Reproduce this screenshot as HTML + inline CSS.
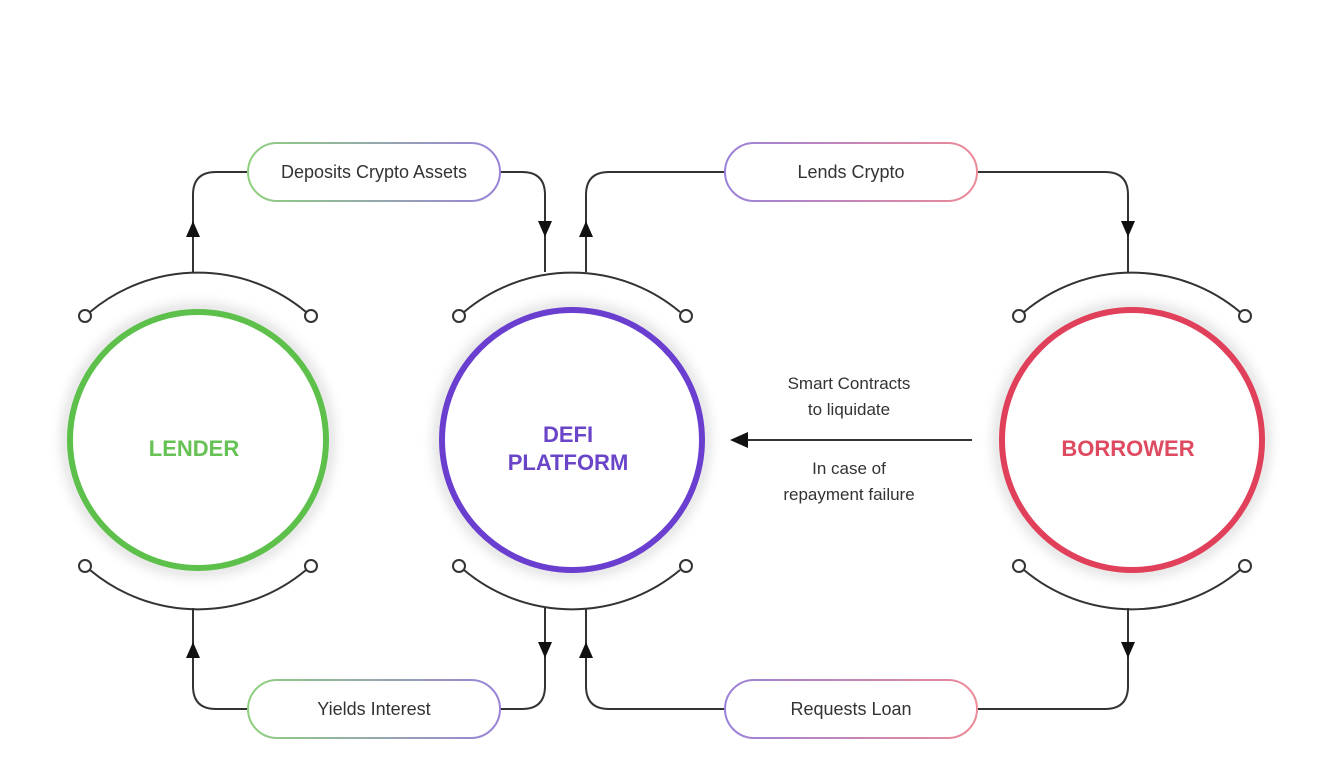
<!DOCTYPE html>
<html><head><meta charset="utf-8"><style>
html,body{margin:0;padding:0;background:#fff;}
svg{display:block;font-family:"Liberation Sans",sans-serif;}
</style></head><body>
<svg width="1320" height="772" viewBox="0 0 1320 772">
<defs>
<linearGradient id="gp" x1="0" x2="1" y1="0" y2="0"><stop offset="0" stop-color="#8fd07f"/><stop offset="1" stop-color="#9a82d8"/></linearGradient>
<linearGradient id="pr" x1="0" x2="1" y1="0" y2="0"><stop offset="0" stop-color="#9a82d8"/><stop offset="1" stop-color="#ec8a98"/></linearGradient>
<radialGradient id="sh"><stop offset="0.8" stop-color="#e2e2e2"/><stop offset="0.9" stop-color="#ececec"/><stop offset="1" stop-color="#ffffff" stop-opacity="0"/></radialGradient>
</defs>
<circle cx="198" cy="440" r="150" fill="url(#sh)"/>
<circle cx="572" cy="440" r="152" fill="url(#sh)"/>
<circle cx="1132" cy="440" r="152" fill="url(#sh)"/>
<g fill="none" stroke="#333" stroke-width="2">
<path d="M90 312 A168 168 0 0 1 306 312"/>
<path d="M464 312 A168 168 0 0 1 680 312"/>
<path d="M1024 312 A168 168 0 0 1 1240 312"/>
<path d="M90 570 A168 168 0 0 0 306 570"/>
<path d="M464 570 A168 168 0 0 0 680 570"/>
<path d="M1024 570 A168 168 0 0 0 1240 570"/>
<path d="M193 272 V195 Q193 172 216 172 H248"/>
<path d="M500 172 H522 Q545 172 545 195 V272"/>
<path d="M586 272 V195 Q586 172 609 172 H725"/>
<path d="M977 172 H1105 Q1128 172 1128 195 V272"/>
<path d="M193 608 V686 Q193 709 216 709 H248"/>
<path d="M500 709 H522 Q545 709 545 686 V608"/>
<path d="M586 608 V686 Q586 709 609 709 H725"/>
<path d="M977 709 H1105 Q1128 709 1128 686 V608"/>
<path d="M972 440 H745"/>
</g>
<g fill="#fff" stroke="#333" stroke-width="2">
<circle cx="85" cy="316" r="6"/><circle cx="311" cy="316" r="6"/>
<circle cx="459" cy="316" r="6"/><circle cx="686" cy="316" r="6"/>
<circle cx="1019" cy="316" r="6"/><circle cx="1245" cy="316" r="6"/>
<circle cx="85" cy="566" r="6"/><circle cx="311" cy="566" r="6"/>
<circle cx="459" cy="566" r="6"/><circle cx="686" cy="566" r="6"/>
<circle cx="1019" cy="566" r="6"/><circle cx="1245" cy="566" r="6"/>
</g>
<g fill="#111">
<path d="M186 237 L200 237 L193 221 Z"/>
<path d="M538 221 L552 221 L545 237 Z"/>
<path d="M579 237 L593 237 L586 221 Z"/>
<path d="M1121 221 L1135 221 L1128 237 Z"/>
<path d="M186 658 L200 658 L193 642 Z"/>
<path d="M538 642 L552 642 L545 658 Z"/>
<path d="M579 658 L593 658 L586 642 Z"/>
<path d="M1121 642 L1135 642 L1128 658 Z"/>
<path d="M730 440 L748 432 L748 448 Z"/>
</g>
<circle cx="198" cy="440" r="128" fill="#fff" stroke="#5cc04a" stroke-width="6"/>
<circle cx="572" cy="440" r="130" fill="#fff" stroke="#6a3fd0" stroke-width="6"/>
<circle cx="1132" cy="440" r="130" fill="#fff" stroke="#e0405a" stroke-width="6"/>
<g font-weight="bold" font-size="22" text-anchor="middle">
<text x="194" y="456" fill="#66c254">LENDER</text>
<text x="568" y="442" fill="#6a45c8">DEFI</text>
<text x="568" y="470" fill="#6a45c8">PLATFORM</text>
<text x="1128" y="456" fill="#de4a60">BORROWER</text>
</g>
<rect x="248" y="143" width="252" height="58" rx="29" fill="#fff" stroke="url(#gp)" stroke-width="2"/>
<rect x="725" y="143" width="252" height="58" rx="29" fill="#fff" stroke="url(#pr)" stroke-width="2"/>
<rect x="248" y="680" width="252" height="58" rx="29" fill="#fff" stroke="url(#gp)" stroke-width="2"/>
<rect x="725" y="680" width="252" height="58" rx="29" fill="#fff" stroke="url(#pr)" stroke-width="2"/>
<g font-size="18" fill="#333" text-anchor="middle">
<text x="374" y="178">Deposits Crypto Assets</text>
<text x="851" y="178">Lends Crypto</text>
<text x="374" y="715">Yields Interest</text>
<text x="851" y="715">Requests Loan</text>
</g>
<g font-size="17" fill="#333" text-anchor="middle">
<text x="849" y="389">Smart Contracts</text>
<text x="849" y="415">to liquidate</text>
<text x="849" y="474">In case of</text>
<text x="849" y="500">repayment failure</text>
</g>
</svg>
</body></html>
